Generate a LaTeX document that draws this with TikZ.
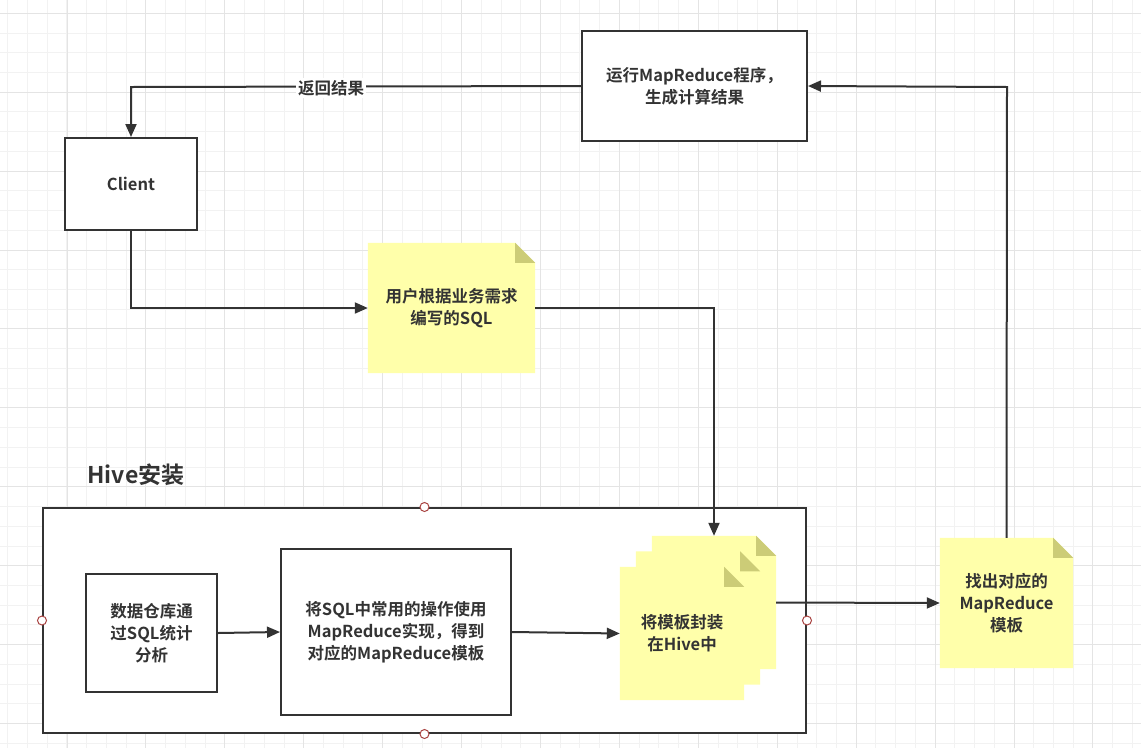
\documentclass[tikz,border=0pt]{standalone}
\usepackage{fontspec}
\setmainfont{Noto Sans CJK SC}[BoldFont={Noto Sans CJK SC Bold}]
\usetikzlibrary{arrows.meta,backgrounds}
\definecolor{ink}{HTML}{333333}
\definecolor{noteY}{RGB}{255,255,170}
\definecolor{foldY}{RGB}{204,204,119}
\definecolor{gridminor}{HTML}{F2F2F2}
\definecolor{gridmajor}{HTML}{E4E4E4}
\definecolor{dotred}{HTML}{A94442}
\tikzset{
  box/.style={draw=ink, line width=2pt, fill=white, text=ink, font=\fontsize{16.5}{22}\selectfont\bfseries, align=center, inner sep=0pt},
  notebox/.style={text=ink, font=\fontsize{16.5}{22}\selectfont\bfseries, align=center, inner sep=0pt},
  conn/.style={draw=ink, line width=2pt, -{Triangle[length=13pt,width=11pt]}},
  handle/.style={draw=dotred, fill=white, line width=1pt, circle, minimum size=9pt, inner sep=0pt},
}
\newcommand{\notefill}[1]{%
  \fill[noteY] (#1.north west) -- ([xshift=-20pt]#1.north east) -- ([yshift=-20pt]#1.north east) -- (#1.south east) -- (#1.south west) -- cycle;
  \fill[foldY] ([xshift=-20pt]#1.north east) -- ([yshift=-20pt]#1.north east) -- ([xshift=-20pt,yshift=-20pt]#1.north east) -- cycle;}
\begin{document}
\begin{tikzpicture}[x=1pt,y=-1pt]
\useasboundingbox (0,0) rectangle (1141,748);
\begin{scope}[on background layer]
  \fill[white] (0,0) rectangle (1141,748);
  \foreach \i in {0,...,57} {\draw[gridminor, line width=1pt] ({7.8+19.73*\i},0) -- ({7.8+19.73*\i},748);}
  \foreach \i in {0,...,38} {\draw[gridminor, line width=1pt] (0,{13.3+19.73*\i}) -- (1141,{13.3+19.73*\i});}
  \foreach \i in {0,...,14} {\draw[gridmajor, line width=1pt] ({67+78.92*\i},0) -- ({67+78.92*\i},748);}
  \foreach \i in {0,...,9} {\draw[gridmajor, line width=1pt] (0,{13.3+78.92*\i}) -- (1141,{13.3+78.92*\i});}
\end{scope}

% Container
\node[draw=ink, line width=2pt, minimum width=763pt, minimum height=225pt, inner sep=0pt] (hive) at (424.5,620.5) {};
\begin{scope}[on background layer]
  \fill[white] (hive.north west) rectangle (hive.south east);
\end{scope}
\node[text=ink, font=\fontsize{23}{26}\selectfont\bfseries, anchor=west] (hivelabel) at (84,475) {Hive安装};

% Boxes
\node[box, minimum width=225pt, minimum height=110pt] (run) at (694.5,86) {运行MapReduce程序，\\生成计算结果};
\node[box, minimum width=132pt, minimum height=92pt] (client) at (131,184) {Client};
\node[box, minimum width=131pt, minimum height=118pt] (dw) at (151.5,633) {数据仓库通\\过SQL统计\\分析};
\node[box, minimum width=230pt, minimum height=166pt] (impl) at (396,632) {将SQL中常用的操作使用\\MapReduce实现，得到\\对应的MapReduce模板};

% Notes
\node[notebox, minimum width=167pt, minimum height=130pt] (sql) at (451.5,308) {用户根据业务需求\\编写的SQL};
\node[notebox, minimum width=124pt, minimum height=133pt] (tplA) at (714,602.5) {};
\node[notebox, minimum width=124pt, minimum height=133pt] (tplB) at (698,618) {};
\node[notebox, minimum width=124pt, minimum height=133pt] (tpl) at (682,633.5) {将模板封装\\在Hive中};
\node[notebox, minimum width=133pt, minimum height=130pt] (find) at (1006.5,603) {找出对应的\\MapReduce\\模板};
\begin{scope}[on background layer]
  \notefill{sql}
  \notefill{tplA}
  \notefill{tplB}
  \notefill{tpl}
  \notefill{find}
\end{scope}

% Handles on container
\node[handle] (h1) at (hive.north) {};
\node[handle] (h2) at (hive.south) {};
\node[handle] (h3) at (hive.west) {};
\node[handle] (h4) at (hive.east) {};

% Connectors
\draw[conn] (client.south) |- (sql.west);
\draw[conn] (sql.east) -| (tplA.north);
\draw[conn] (dw.east) -- (impl.west);
\draw[conn] (impl.east) -- (tpl.west);
\draw[conn] (tplA.east) -- (find.west);
\coordinate (c1) at (1007,87);
\draw[conn] (find.north) -- (c1) -- (run.east);
\coordinate (c2) at (131,87);
\draw[conn] (run.west) -- (c2) -- (client.north);
\node[fill=white, text=ink, font=\fontsize{16.5}{18}\selectfont\bfseries, inner sep=2pt] (ret) at (331,88) {返回结果};
\end{tikzpicture}
\end{document}
